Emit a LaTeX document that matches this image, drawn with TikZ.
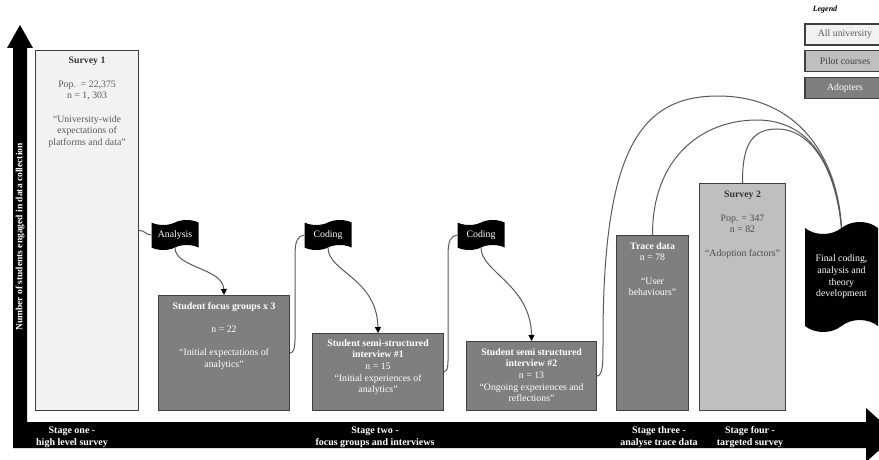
\documentclass[tikz,border=0pt]{standalone}
\usepackage{fontspec}
\setmainfont{Liberation Serif}
\usetikzlibrary{shapes.symbols,arrows.meta,positioning}
\definecolor{alluni}{HTML}{F2F2F2}
\definecolor{pilot}{HTML}{BFBFBF}
\definecolor{adopt}{HTML}{7F7F7F}
\definecolor{edge}{HTML}{404040}
\definecolor{softtext}{HTML}{5A5A5A}
\definecolor{titletext}{HTML}{333333}

\begin{document}
\begin{tikzpicture}[x=1pt,y=-1pt,
  every node/.style={font=\fontsize{9.8}{11.7}\selectfont, inner sep=0pt},
  box/.style={draw=edge, line width=1.1pt, anchor=north west},
  lighttext/.style={text=softtext, align=center},
  darktext/.style={text=white, align=center},
  flag/.style={tape, fill=black, text=white, align=center,
    minimum width=47, minimum height=30, tape bend height=5pt},
  legbox/.style={draw=edge, line width=1.1pt, minimum width=80, minimum height=21},
  stage/.style={text=white, font=\fontsize{10}{12}\selectfont\bfseries, align=center},
  conn/.style={draw=black!65, line width=1pt},
  arr/.style={conn, -{Triangle[width=6pt,length=6pt,color=black]}}
]
\useasboundingbox (0,0) rectangle (879,460);
\clip (0,0) rectangle (879,460);

% axes: vertical and horizontal block arrows
\fill[black] (13,448) -- (13,48) -- (7,48) -- (20,25) -- (33,48) -- (27,48)
  -- (27,422) -- (866,422) -- (866,408) -- (896,435) -- (866,462) -- (866,448) -- cycle;
\node[text=white, font=\fontsize{9.5}{11}\selectfont\bfseries, rotate=90] (ylab) at (20,237)
  {Number of students engaged in data collection};

% stage labels on the time axis
\node[stage] (st1) at (72,437) {Stage one -\\ high level survey};
\node[stage] (st2) at (375,437) {Stage two -\\ focus groups and interviews};
\node[stage] (st3) at (659,437) {Stage three -\\ analyse trace data};
\node[stage] (st4) at (750,437) {Stage four -\\ targeted survey};

% data collection boxes
\node[box, fill=alluni, minimum width=103, minimum height=360] (s1) at (35,50) {};
\node[lighttext, below=7pt of s1.north] (s1t)
  {\textcolor{titletext}{\textbf{Survey 1}}\\[11.7pt] Pop.\ \ = 22,375\\ n = 1, 303\\[11.7pt]
   “University-wide\\ expectations of\\ platforms and data”};

\node[box, fill=adopt, minimum width=131, minimum height=115] (fg) at (158,295) {};
\node[darktext, below=7pt of fg.north] (fgt)
  {\textbf{Student focus groups x 3}\\[11.7pt] n = 22\\[11.7pt] “Initial expectations of\\ analytics”};

\node[box, fill=adopt, minimum width=131, minimum height=77] (i1) at (312,333) {};
\node[darktext, below=6pt of i1.north] (i1t)
  {\textbf{Student semi-structured}\\ \textbf{interview \#1}\\ n = 15\\ “Initial experiences of\\ analytics”};

\node[box, fill=adopt, minimum width=130, minimum height=69] (i2) at (466,341) {};
\node[darktext, below=7pt of i2.north] (i2t)
  {\textbf{Student semi structured}\\ \textbf{interview \#2}\\ n = 13\\ “Ongoing experiences and\\ reflections”};

\node[box, fill=adopt, minimum width=72, minimum height=175] (td) at (616,235) {};
\node[darktext, below=7pt of td.north] (tdt)
  {\textbf{Trace data}\\ n = 78\\[11.7pt] “User\\ behaviours”};

\node[box, fill=pilot, minimum width=86, minimum height=227] (s2) at (699,183) {};
\node[lighttext, text=black!70, below=8pt of s2.north] (s2t)
  {\textcolor{titletext}{\textbf{Survey 2}}\\[11.7pt] Pop. = 347\\ n = 82\\[11.7pt] “Adoption factors”};

% analysis steps
\node[flag] (ana) at (175,235) {Analysis};
\node[flag] (cod1) at (328,235) {Coding};
\node[flag] (cod2) at (481,235) {Coding};
\node[flag, minimum width=73, minimum height=110, tape bend height=12pt] (fin) at (841.5,277)
  {Final coding,\\ analysis and\\ theory\\ development};

% connectors
\draw[conn] (s1.east) .. controls (145,230) and (145,235) .. (ana.west);
\draw[arr] (ana.south) .. controls (175,268) and (223,268) .. (fg.north);
\draw[conn] (fg.east) .. controls (296,352) and (295,342) .. (295,320)
  -- (295,255) .. controls (295,240) and (298,236) .. (cod1.west);
\draw[arr] (cod1.south) .. controls (328,272) and (377,278) .. (i1.north);
\draw[conn] (i1.east) .. controls (449,371) and (448,362) .. (448,340)
  -- (448,255) .. controls (448,240) and (451,236) .. (cod2.west);
\draw[arr] (cod2.south) .. controls (481,272) and (531,285) .. (i2.north);

% links into the final step
\draw[conn] (i2.east) .. controls (603,375) and (603,365) .. (603,340)
  .. controls (603,150) and (640,96) .. (718,96)
  .. controls (800,96) and (838,160) .. (fin.north);
\draw[conn] (td.north) .. controls (652,160) and (700,120) .. (757,120)
  .. controls (810,120) and (836,165) .. (fin.north);
\draw[conn] (s2.north) .. controls (742,145) and (752,129) .. (777,129)
  .. controls (812,129) and (836,170) .. (fin.north);

% legend
\node[font=\fontsize{8}{10}\selectfont\bfseries\itshape] (legt) at (825,10) {Legend};
\node[legbox, fill=alluni, text=softtext] (l1) at (845,34.5) {All university};
\node[legbox, fill=pilot, text=black!75] (l2) at (845,61) {Pilot courses};
\node[legbox, fill=adopt, text=white] (l3) at (845,88) {Adopters};
\end{tikzpicture}
\end{document}
